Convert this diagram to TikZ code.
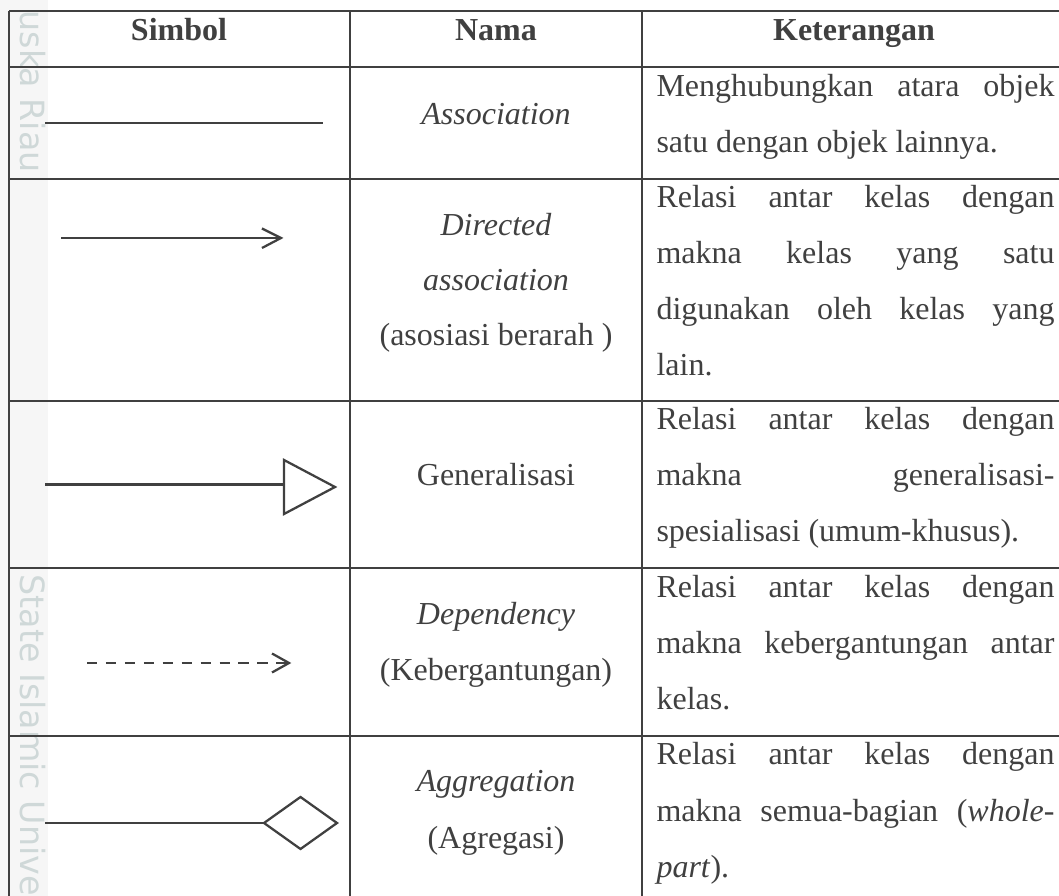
\documentclass[tikz,border=0pt]{standalone}
\usepackage{fontspec}
\setmainfont{Liberation Serif}
\newfontfamily\wmfont{DejaVu Sans}
\definecolor{ink}{HTML}{404040}
\definecolor{wmark}{HTML}{CFD8D8}
\definecolor{band}{HTML}{F6F6F6}
\newcommand{\jline}[1]{\makebox[149.25pt][s]{#1}}
\begin{document}
\begin{tikzpicture}[x=0.375pt,y=-0.375pt,
  rule/.style={line width=0.9pt,draw=ink},
  sym/.style={line width=0.85pt,draw=ink,line join=miter},
  txt/.style={inner sep=0pt,text=ink,font=\fontsize{12pt}{14pt}\selectfont},
  mid/.style={txt,anchor=base},
  left/.style={txt,anchor=base west},
  head/.style={mid,font=\fontsize{12pt}{14pt}\selectfont\bfseries},
  wm/.style={inner sep=0pt,text=wmark,font=\wmfont\fontsize{12.5pt}{15pt}\selectfont,rotate=-90,anchor=base west}]
\useasboundingbox (0,0) rectangle (1059,896);
\fill[band] (0,0) rectangle (48,896);

% watermark lettering along the left edge
\node[wm] (wmA) at (20,10) {uska Riau};
\node[wm] (wmB) at (20,574) {State Islamic Unive};

% table rules
\foreach \yy in {11,67,179,401,568,736}
  \draw[rule] (9,\yy) -- (1059,\yy);
\foreach \xx in {9,350,642}
  \draw[rule] (\xx,11) -- (\xx,896);

% header
\node[head] (h1) at (179,41) {Simbol};
\node[head] (h2) at (496,41) {Nama};
\node[head] (h3) at (854,41) {Keterangan};

% row 1: association
\coordinate (a1) at (45,123);
\coordinate (a2) at (323,123);
\draw[sym] (a1) -- (a2);
\node[mid] (n1) at (496,125) {\itshape Association};
\node[left] (k1a) at (656,97) {\jline{Menghubungkan atara objek}};
\node[left] (k1b) at (656,153) {satu dengan objek lainnya.};

% row 2: directed association
\coordinate (d1) at (61,238);
\coordinate (d2) at (281,238);
\coordinate (d2u) at (262,228.5);
\coordinate (d2l) at (262,248);
\draw[sym] (d1) -- (d2);
\draw[sym] (d2u) -- (d2) -- (d2l);
\node[mid] (n2a) at (496,236) {\itshape Directed};
\node[mid] (n2b) at (496,291) {\itshape association};
\node[mid] (n2c) at (496,346) {(asosiasi berarah )};
\node[left] (k2a) at (656,208) {\jline{Relasi antar kelas dengan}};
\node[left] (k2b) at (656,264) {\jline{makna kelas yang satu}};
\node[left] (k2c) at (656,320) {\jline{digunakan oleh kelas yang}};
\node[left] (k2d) at (656,376) {lain.};

% row 3: generalisation
\coordinate (g1) at (45,484.5);
\coordinate (g2) at (284,484.5);
\coordinate (gt) at (284,460);
\coordinate (gp) at (335,487);
\coordinate (gb) at (284,514);
\draw[sym] (g1) -- (g2);
\draw[sym] (gt) -- (gp) -- (gb) -- cycle;
\node[mid] (n3) at (496,486) {Generalisasi};
\node[left] (k3a) at (656,430) {\jline{Relasi antar kelas dengan}};
\node[left] (k3b) at (656,486) {\jline{makna generalisasi-}};
\node[left] (k3c) at (656,542) {spesialisasi (umum-khusus).};

% row 4: dependency
\coordinate (p1) at (87,663);
\coordinate (p2) at (289,663);
\coordinate (p2u) at (272,653.5);
\coordinate (p2l) at (272,672.5);
\draw[sym,dash pattern=on 3.9pt off 3.2pt] (p1) -- (p2);
\draw[sym] (p2u) -- (p2) -- (p2l);
\node[mid] (n4a) at (496,625) {\itshape Dependency};
\node[mid] (n4b) at (496,681) {(Kebergantungan)};
\node[left] (k4a) at (656,598) {\jline{Relasi antar kelas dengan}};
\node[left] (k4b) at (656,654) {\jline{makna kebergantungan antar}};
\node[left] (k4c) at (656,710) {kelas.};

% row 5: aggregation
\coordinate (r1) at (45,823);
\coordinate (r2) at (264,823);
\coordinate (rt) at (300.5,797);
\coordinate (rr) at (337,823);
\coordinate (rb) at (300.5,849);
\draw[sym] (r1) -- (r2);
\draw[sym] (r2) -- (rt) -- (rr) -- (rb) -- cycle;
\node[mid] (n5a) at (496,792) {\itshape Aggregation};
\node[mid] (n5b) at (496,848) {(Agregasi)};
\node[left] (k5a) at (656,765) {\jline{Relasi antar kelas dengan}};
\node[left] (k5b) at (656,821) {\jline{makna semua-bagian (\textit{whole-}}};
\node[left] (k5c) at (656,877) {\textit{part}).};
\end{tikzpicture}
\end{document}
